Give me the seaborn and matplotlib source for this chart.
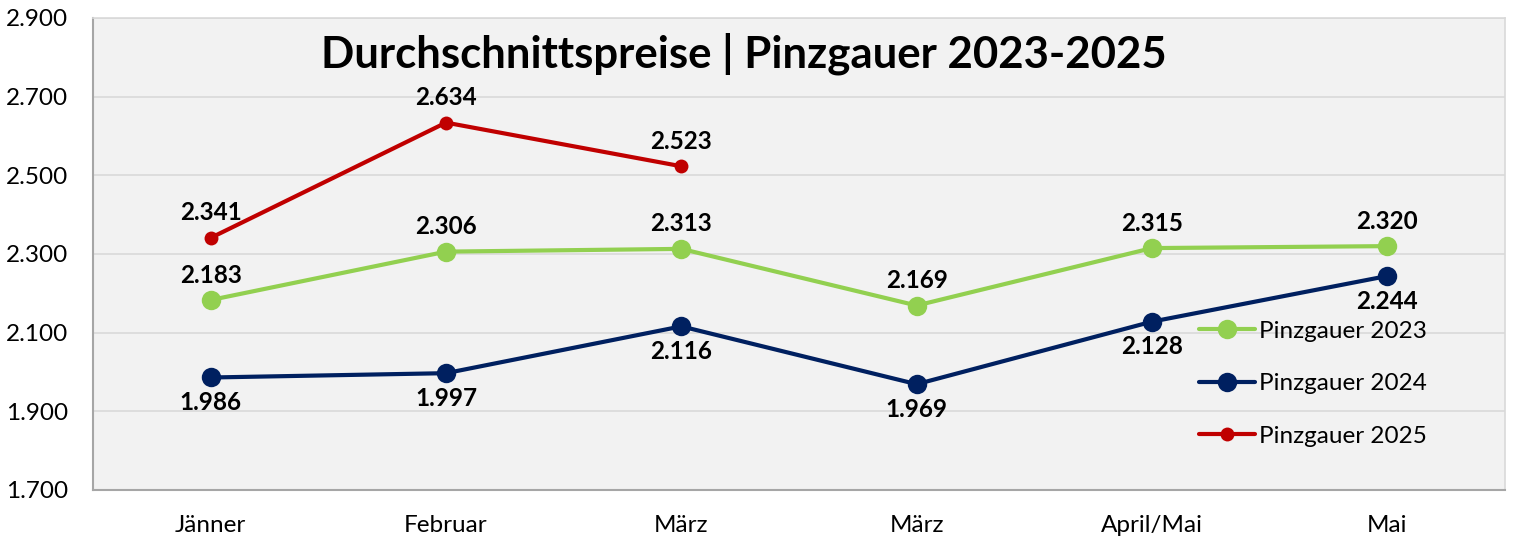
import numpy as np
import pandas as pd
import seaborn as sns

import matplotlib
matplotlib.use('Agg')

import matplotlib.pyplot as plt

months = ["Jänner", "Februar", "März", "März", "April/Mai", "Mai"]
preis_2023 = [2.183, 2.306, 2.313, 2.169, 2.315, 2.320]
preis_2024 = [1.986, 1.997, 2.116, 1.969, 2.128, 2.244]
preis_2025 = [2.341, 2.634, 2.523]

sns.set_style("white")
plt.rcParams['font.family'] = ['Lato', 'DejaVu Sans']
plt.rcParams['text.color'] = 'black'
plt.rcParams['xtick.labelcolor'] = 'black'
plt.rcParams['ytick.labelcolor'] = 'black'

fig = plt.figure(figsize=(15.18, 5.4), dpi=100)
ax = fig.add_axes([0.0613, 0.0926, 0.9301, 0.8741])
ax.set_facecolor("#F2F2F2")

# series: values, color, marker size, label side
series = [
    ("Pinzgauer 2023", preis_2023, "#92D050", 14, 1),
    ("Pinzgauer 2024", preis_2024, "#002060", 14, -1),
    ("Pinzgauer 2025", preis_2025, "#C00000", 10, 1),
]

for name, vals, col, ms, side in series:
    df = pd.DataFrame({"pos": np.arange(len(vals)), "wert": vals})
    sns.lineplot(data=df, x="pos", y="wert", ax=ax, color=col, linewidth=3,
                 marker="o", markersize=ms, markeredgewidth=0, label=name, zorder=3)
    for i, v in enumerate(vals):
        ax.annotate(f"{v:.3f}", (i, v), xytext=(0, 25 * side),
                    textcoords="offset pixels", ha="center", va="center",
                    fontsize=17.5, fontweight="bold", color="black", zorder=4)

ax.set_xlim(-0.5, 5.5)
ax.set_ylim(1.7, 2.9)
ax.set_yticks(np.arange(1.7, 2.91, 0.2))
ax.set_yticklabels([f"{t:.3f}" for t in np.arange(1.7, 2.91, 0.2)], fontsize=17.5)
ax.set_xticks(range(len(months)))
ax.set_xticklabels(months, fontsize=17.5)
ax.set_xticks(np.arange(-0.5, 5.6, 1), minor=True)
ax.tick_params(axis="x", which="major", length=0, pad=18)
ax.tick_params(axis="x", which="minor", length=6, color="#A6A6A6", width=1.2, direction="out")
ax.tick_params(axis="y", length=6, color="#A6A6A6", width=1.2, direction="out", pad=12)
ax.set_xlabel("")
ax.set_ylabel("")

ax.grid(axis="y", color="#D9D9D9", linewidth=1.2)
ax.set_axisbelow(True)
for s in ["left", "bottom"]:
    ax.spines[s].set_color("#A6A6A6")
    ax.spines[s].set_linewidth(1.5)
for s in ["top", "right"]:
    ax.spines[s].set_color("#D9D9D9")
    ax.spines[s].set_linewidth(1.2)

ax.legend(loc="lower right", bbox_to_anchor=(0.96, 0.045), frameon=False,
          fontsize=17.5, handlelength=2.3, labelspacing=1.3, handletextpad=0.15)

ax.set_title("Durchschnittspreise | Pinzgauer 2023-2025", fontsize=31.5, fontweight="bold",
             x=0.461, y=0.878, color="black")

fig.savefig("out.png", dpi=100)
